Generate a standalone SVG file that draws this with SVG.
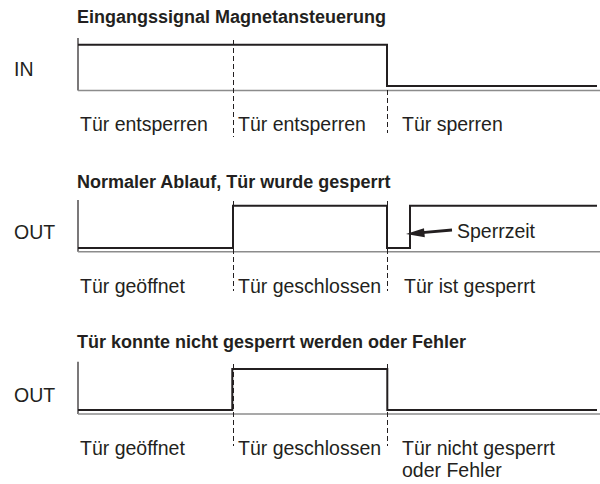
<svg xmlns="http://www.w3.org/2000/svg" width="600" height="484" viewBox="0 0 600 484">
<style>
text{font-family:"Liberation Sans",Arial,Helvetica,sans-serif;fill:#231f20}
.t{font-size:18px;font-weight:bold}
.l{font-size:19.5px}
.axis{stroke:#231f20;stroke-width:1.2;fill:none}
.base{stroke:#8c8c8c;stroke-width:1.5;fill:none}
.sig{stroke:#231f20;stroke-width:2;fill:none;stroke-linejoin:miter}
.dash{stroke:#231f20;stroke-width:1;stroke-dasharray:5 3;fill:none}
</style>
<rect width="600" height="484" fill="#fff"/>
<g id="section1">
<text class="t" x="77" y="22.5">Eingangssignal Magnetansteuerung</text>
<text class="l" x="14" y="76">IN</text>
<path class="axis" d="M78,38V90.5"/>
<path class="base" d="M78,90.5H600"/>
<path class="sig" d="M78,44.7H387V86H597"/>
<text class="l" x="80" y="131">Tür entsperren</text>
<text class="l" x="238" y="131">Tür entsperren</text>
<text class="l" x="402" y="131">Tür sperren</text>
</g>
<g id="section2">
<text class="t" x="77" y="188">Normaler Ablauf, Tür wurde gesperrt</text>
<text class="l" x="14" y="239">OUT</text>
<path class="axis" d="M78,200V251.7"/>
<path class="base" d="M78,251.7H600"/>
<path class="sig" d="M78,248H233V205.7H387V248H410V205.7H597"/>
<text class="l" x="80" y="293">Tür geöffnet</text>
<text class="l" x="238" y="293">Tür geschlossen</text>
<text class="l" x="404" y="293">Tür ist gesperrt</text>
<text class="l" x="457" y="238">Sperrzeit</text>
</g>
<g id="section3">
<text class="t" x="77" y="347.5">Tür konnte nicht gesperrt werden oder Fehler</text>
<text class="l" x="14" y="402">OUT</text>
<path class="axis" d="M78,361.7V414"/>
<path class="base" d="M78,414H600"/>
<path class="sig" d="M78,410H232.3V369H387.3V410H597"/>
<text class="l" x="80" y="455">Tür geöffnet</text>
<text class="l" x="238" y="455">Tür geschlossen</text>
<text class="l" x="402" y="455">Tür nicht gesperrt</text>
<text class="l" x="402" y="477">oder Fehler</text>
</g>
<g id="connectors">
<path class="dash" d="M233.5,40V137M387.5,90V133"/>
<path class="dash" d="M233.5,201V291M387.5,201V291"/>
<path class="dash" d="M233.5,364V446M387.5,364V446"/>
<path d="M452,230L422,232.6" stroke="#231f20" stroke-width="2.8" fill="none"/>
<polygon points="406,234 424,228.3 424.8,237.3" fill="#231f20"/>
</g>
</svg>
